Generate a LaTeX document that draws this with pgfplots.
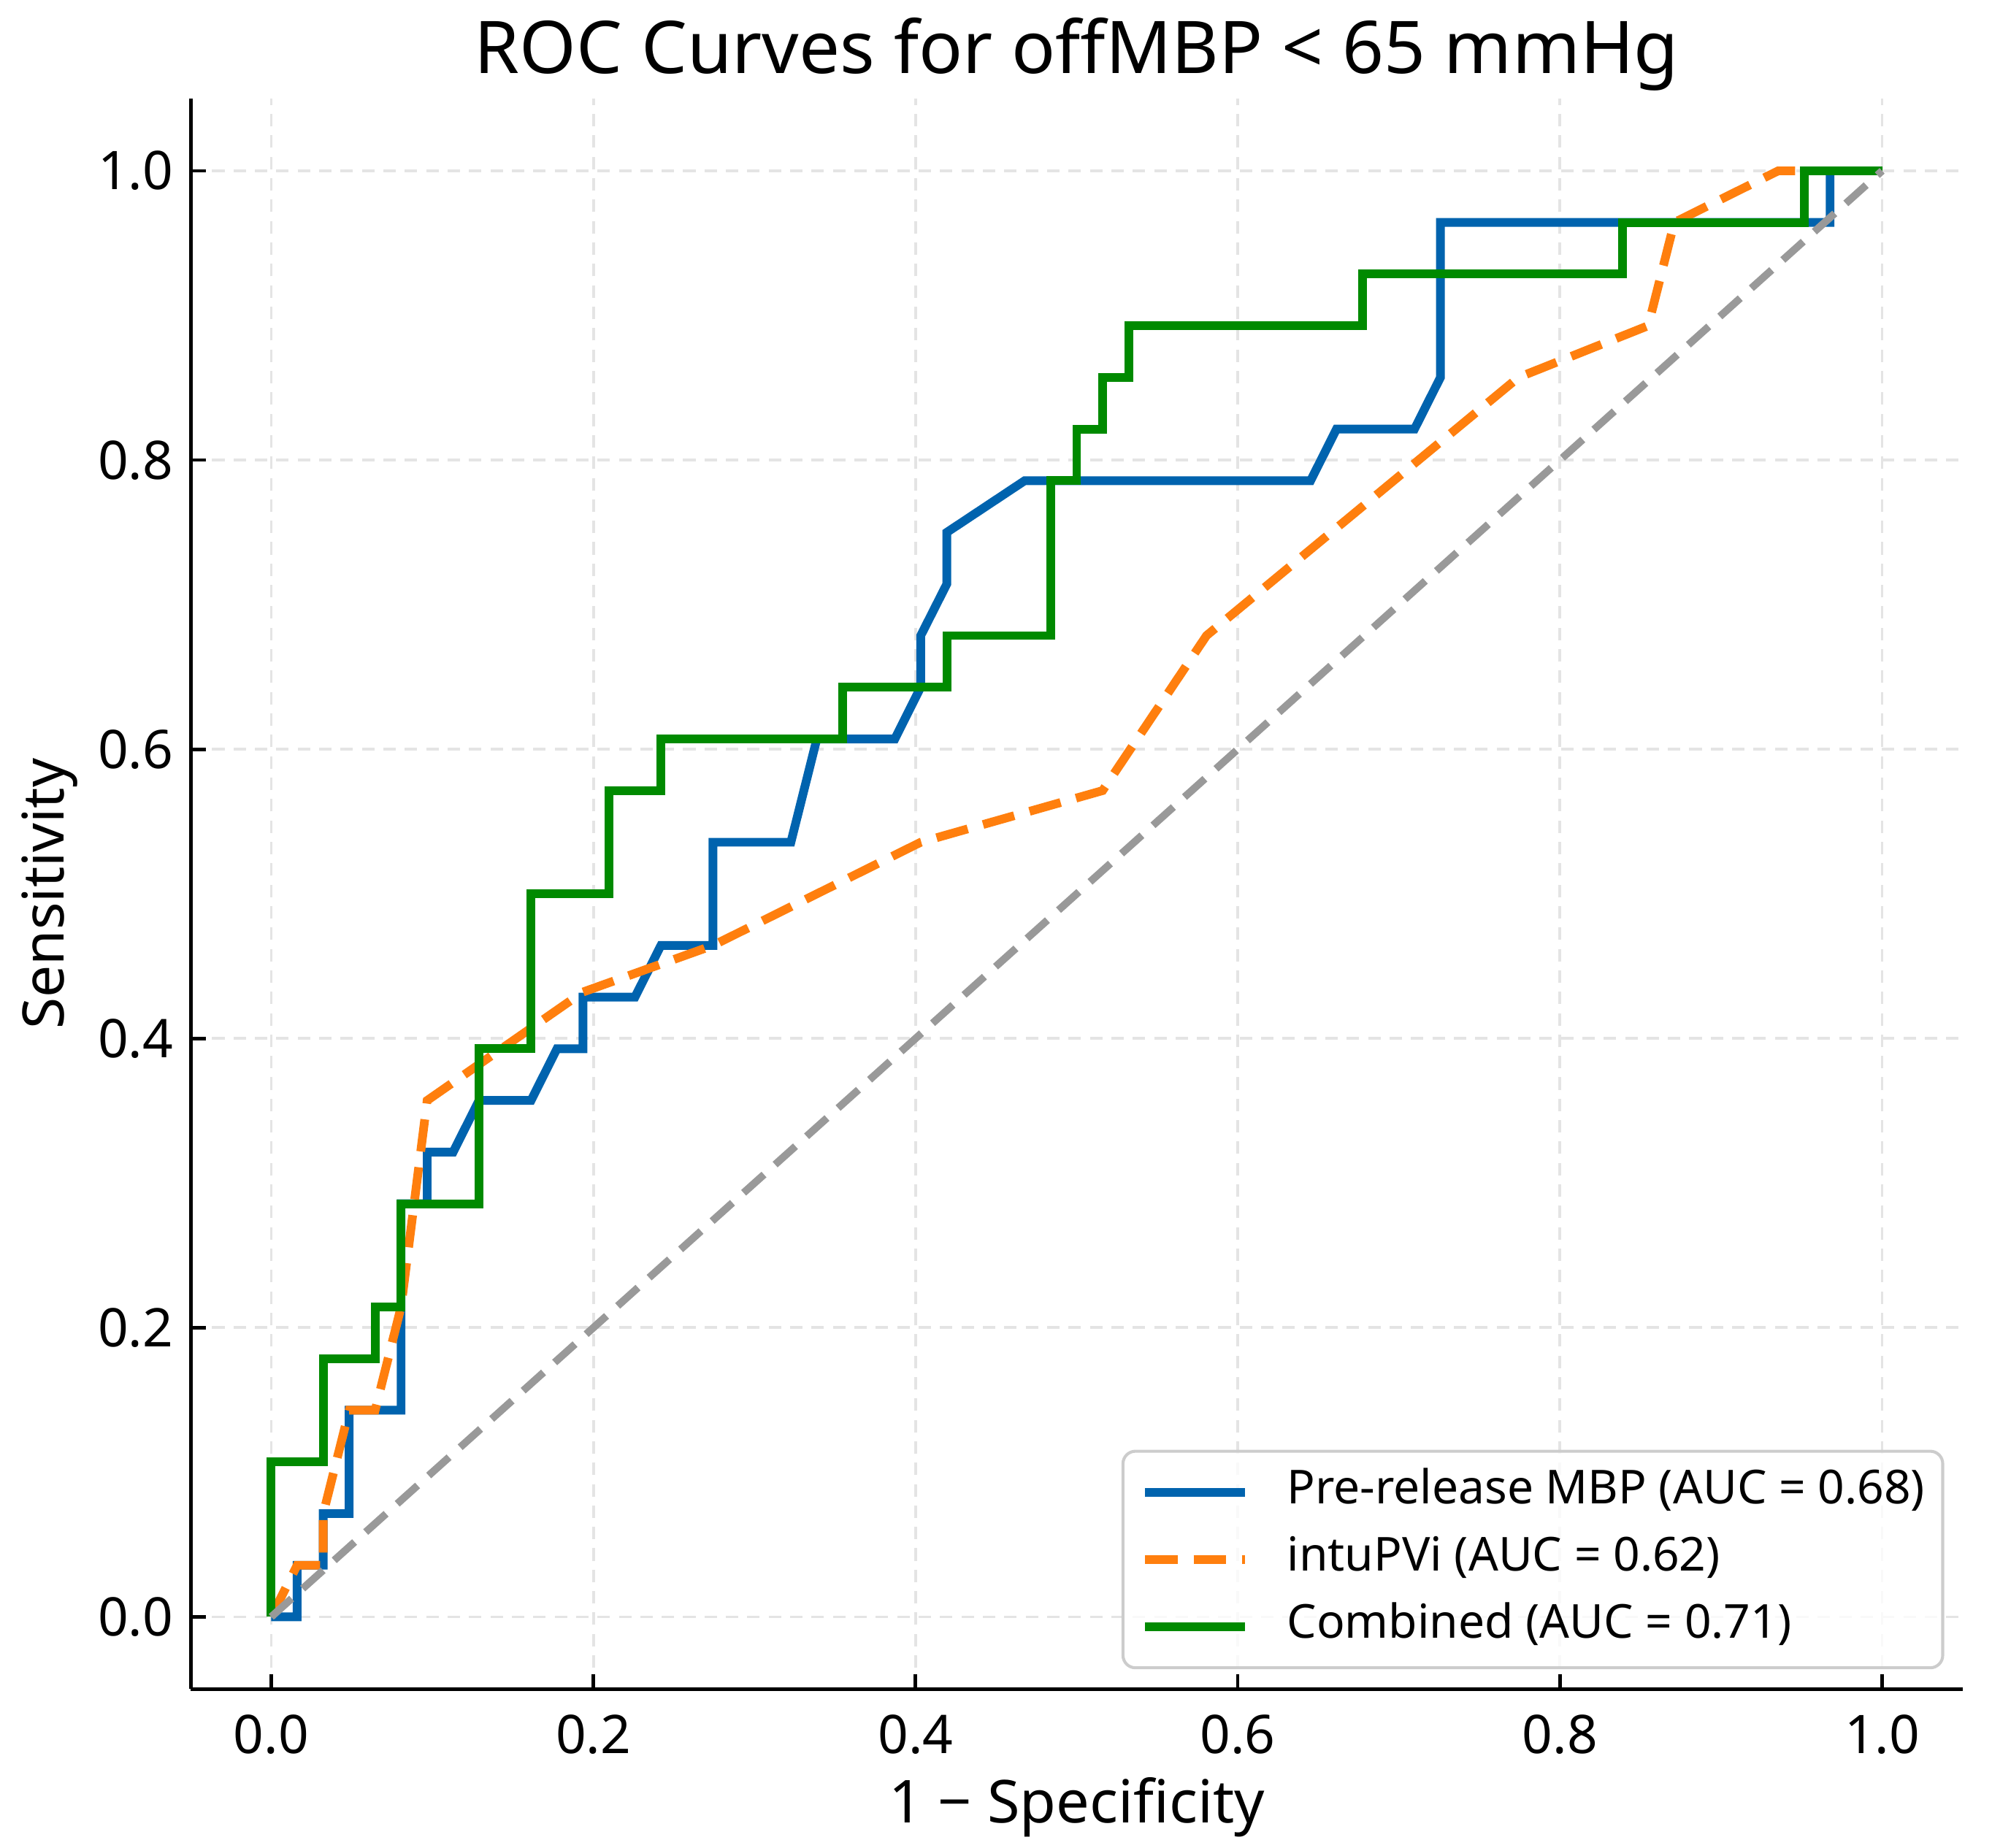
\documentclass[border=0pt]{standalone}
\usepackage{fontspec}
\setmainfont{Noto Sans}
\usepackage{pgfplots}
\pgfplotsset{compat=1.18}
\definecolor{cblue}{RGB}{0,99,174}
\definecolor{corange}{RGB}{255,127,14}
\definecolor{cgreen}{RGB}{0,138,0}
\definecolor{cgray}{RGB}{153,153,153}
\definecolor{cgrid}{RGB}{228,228,228}
\begin{document}
\begin{tikzpicture}
\begin{axis}[
  scale only axis, width=355.9pt, height=319.5pt,
  xmin=-0.05, xmax=1.05, ymin=-0.05, ymax=1.05,
  axis x line=bottom, axis y line=left,
  axis line style={-, black, line width=0.75pt},
  tick align=inside, major tick length=3pt,
  tick style={black, line width=0.7pt},
  xtick={0,0.2,0.4,0.6,0.8,1}, xticklabels={0.0,0.2,0.4,0.6,0.8,1.0},
  ytick={0,0.2,0.4,0.6,0.8,1}, yticklabels={0.0,0.2,0.4,0.6,0.8,1.0},
  ticklabel style={font=\fontsize{10.7}{12}\selectfont},
  xticklabel style={yshift=-1.6pt},
  grid=major,
  major grid style={cgrid, line width=0.55pt, dash pattern=on 2.5pt off 1.8pt},
  title={ROC Curves for offMBP < 65 mmHg},
  title style={at={(axis description cs:0.5,1.0156)}, anchor=base, yshift=-6pt, font=\fontsize{14.6}{17}\selectfont},
  xlabel={1 − Specificity},
  xlabel style={at={(axis description cs:0.5,-0.0839)}, anchor=base, font=\fontsize{11.9}{14}\selectfont},
  ylabel={Sensitivity},
  ylabel style={at={(axis description cs:-0.0717,0.5)}, anchor=base, font=\fontsize{11.5}{14}\selectfont},
  legend style={
    at={(axis description cs:0.9896,0.0125)}, anchor=south east,
    draw=black!20, line width=0.6pt, rounded corners=2.5pt,
    fill=white, fill opacity=0.8, text opacity=1, draw opacity=1,
    font=\fontsize{9.4}{11}\selectfont,
    inner xsep=3.6pt, inner ysep=3pt,
    row sep=3pt,
    nodes={inner xsep=0pt, inner ysep=0.5pt, text height=7pt, text depth=2.5pt},
    /tikz/every odd column/.append style={column sep=7.6pt},
  },
  legend cell align=left,
  legend image code/.code={\draw[#1] (0pt,0pt) -- (20pt,0pt);},
]
\addplot[cblue, line width=1.75pt] coordinates {
(0,0) (0.0161,0) (0.0161,0.0357) (0.0323,0.0357) (0.0323,0.0714) (0.0484,0.0714)
(0.0484,0.1429) (0.0806,0.1429) (0.0806,0.2857) (0.0968,0.2857) (0.0968,0.3214)
(0.1129,0.3214) (0.1290,0.3571) (0.1613,0.3571) (0.1774,0.3929) (0.1935,0.3929)
(0.1935,0.4286) (0.2258,0.4286) (0.2419,0.4643) (0.2742,0.4643) (0.2742,0.5357)
(0.3226,0.5357) (0.3387,0.6071) (0.3871,0.6071) (0.4032,0.6429) (0.4032,0.6786)
(0.4194,0.7143) (0.4194,0.7500) (0.4677,0.7857) (0.6452,0.7857) (0.6613,0.8214)
(0.7097,0.8214) (0.7258,0.8571) (0.7258,0.9643) (0.9677,0.9643) (0.9677,1) (1,1)
};
\addlegendentry{Pre-release MBP (AUC = 0.68)}
\addplot[corange, line width=1.75pt, dash pattern=on 6.5pt off 3.2pt] coordinates {
(0,0) (0.0161,0.0357) (0.0323,0.0357) (0.0323,0.0714) (0.0484,0.1429) (0.0645,0.1429)
(0.0806,0.2143) (0.0887,0.2857) (0.0968,0.3571) (0.1935,0.4321) (0.2742,0.4643)
(0.4032,0.5357) (0.5161,0.5714) (0.5806,0.6786) (0.7742,0.8571) (0.8548,0.8929)
(0.8710,0.9643) (0.9355,1) (1,1)
};
\addlegendentry{intuPVi (AUC = 0.62)}
\addplot[cgreen, line width=1.75pt] coordinates {
(0,0) (0,0.1071) (0.0323,0.1071) (0.0323,0.1786) (0.0645,0.1786) (0.0645,0.2143)
(0.0806,0.2143) (0.0806,0.2857) (0.1290,0.2857) (0.1290,0.3929) (0.1613,0.3929)
(0.1613,0.5) (0.2097,0.5) (0.2097,0.5714) (0.2419,0.5714) (0.2419,0.6071)
(0.3548,0.6071) (0.3548,0.6429) (0.4194,0.6429) (0.4194,0.6786) (0.4839,0.6786)
(0.4839,0.7857) (0.5,0.7857) (0.5,0.8214) (0.5161,0.8214) (0.5161,0.8571)
(0.5323,0.8571) (0.5323,0.8929) (0.6774,0.8929) (0.6774,0.9286) (0.8387,0.9286)
(0.8387,0.9643) (0.9516,0.9643) (0.9516,1) (1,1)
};
\addlegendentry{Combined (AUC = 0.71)}
\addplot[cgray, line width=1.5pt, dash pattern=on 5.5pt off 3pt, forget plot] coordinates {(0,0) (1,1)};
\end{axis}
\pgfresetboundingbox
\path ([shift={(-38.3pt,-31.8pt)}]current axis.south west) rectangle ([shift={(5.9pt,19.8pt)}]current axis.north east);
\end{tikzpicture}
\end{document}
